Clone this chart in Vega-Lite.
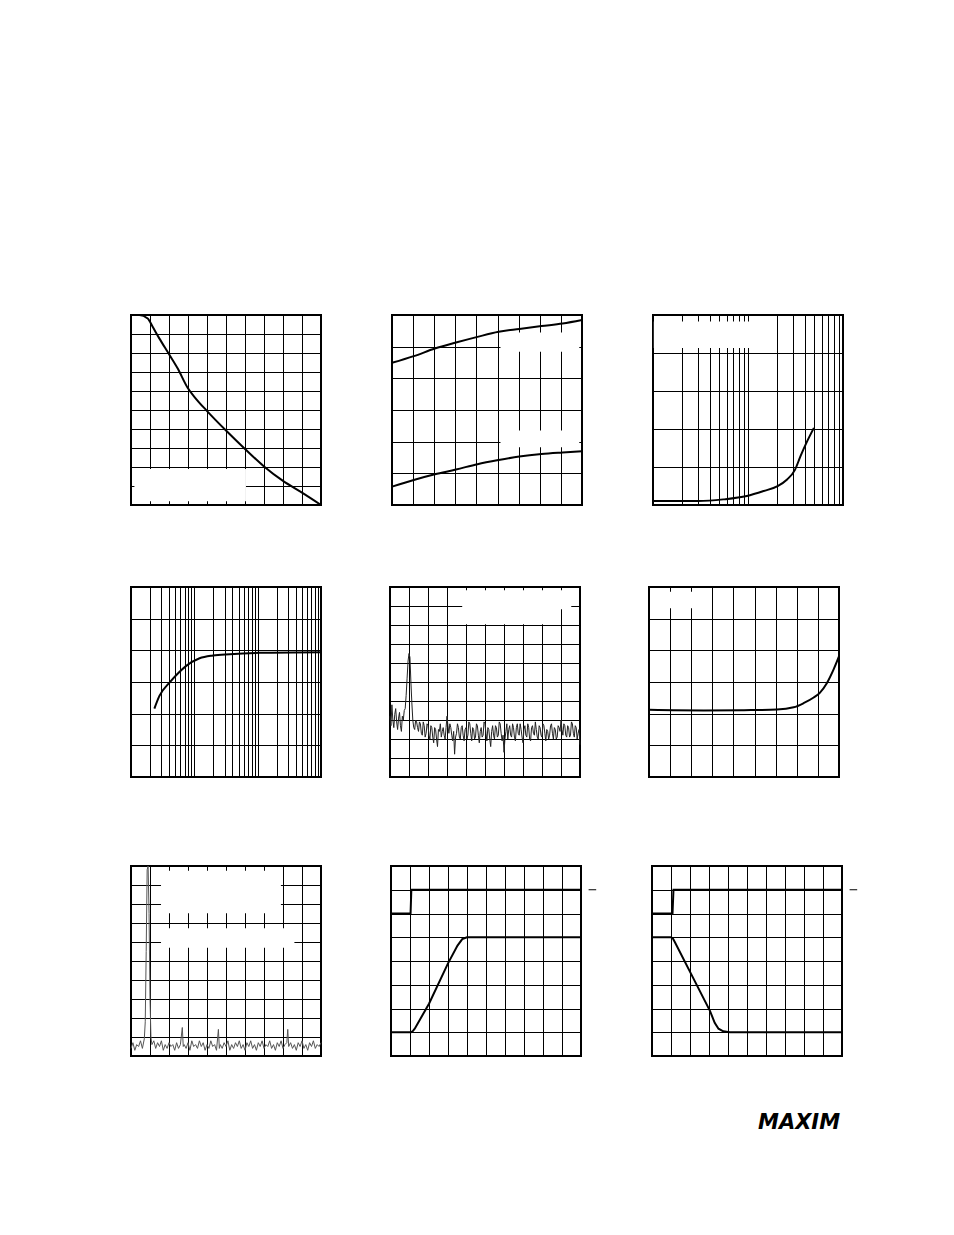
{
  "$schema": "https://vega.github.io/schema/vega-lite/v6.json",
  "background": "white",
  "padding": {"left": 126, "top": 310, "right": 10, "bottom": 10},
  "config": {
    "view": {"stroke": "black", "strokeWidth": 2},
    "axis": {"labels": false, "ticks": false, "domain": false, "title": null, "grid": true, "gridColor": "black", "gridOpacity": 1, "gridWidth": 1, "minExtent": 0, "maxExtent": 0}
  },
  "title": {"text": "MAXIM", "orient": "bottom", "anchor": "start", "frame": "group", "font": "DejaVu Sans", "fontSize": 21, "fontStyle": "italic", "fontWeight": "bold", "color": "black", "offset": 55, "dx": 627},
  "datasets": {
    "p1": [{"x":0,"y":10},{"x":0.44,"y":10},{"x":0.88,"y":9.82},{"x":1.14,"y":9.38},{"x":1.49,"y":8.77},{"x":1.98,"y":7.97},{"x":2.46,"y":7.18},{"x":2.98,"y":6.17},{"x":3.42,"y":5.59},{"x":3.98,"y":4.97},{"x":5.0,"y":3.92},{"x":6.0,"y":2.95},{"x":7.0,"y":2.03},{"x":8.0,"y":1.27},{"x":9.0,"y":0.65},{"x":10,"y":0.0}],
    "p1m": [{"x":0.18,"x2":6.05,"y":0.2,"y2":1.9}],
    "p2": [{"s":"a","x":0,"y":4.49},{"s":"a","x":1.03,"y":4.7},{"s":"a","x":2.03,"y":4.94},{"s":"a","x":3.03,"y":5.13},{"s":"a","x":4.05,"y":5.31},{"s":"a","x":5.05,"y":5.47},{"s":"a","x":6.03,"y":5.56},{"s":"a","x":7.08,"y":5.65},{"s":"a","x":8.08,"y":5.73},{"s":"a","x":9,"y":5.84},
           {"s":"b","x":0,"y":0.58},{"s":"b","x":1.03,"y":0.79},{"s":"b","x":2.03,"y":0.97},{"s":"b","x":3.03,"y":1.12},{"s":"b","x":4.05,"y":1.29},{"s":"b","x":5.05,"y":1.42},{"s":"b","x":6.03,"y":1.53},{"s":"b","x":7.08,"y":1.61},{"s":"b","x":8.08,"y":1.66},{"s":"b","x":9,"y":1.7}],
    "p2m": [{"x":5.14,"x2":8.87,"y":4.84,"y2":5.45},{"x":5.14,"x2":8.87,"y":1.82,"y2":2.35}],
    "p3": [{"x":1,"y":0.105},{"x":2.99,"y":0.105},{"x":5.5,"y":0.148},{"x":9.72,"y":0.236},{"x":14.6,"y":0.367},{"x":20.5,"y":0.498},{"x":25.8,"y":0.673},{"x":31.1,"y":0.918},{"x":35.7,"y":1.285},{"x":42,"y":1.68},{"x":49.4,"y":2.03}],
    "p3m": [{"x":1.02,"x2":19,"y":4.13,"y2":4.83}],
    "p4": [{"x":2.34,"y":2.16},{"x":2.81,"y":2.56},{"x":4.05,"y":2.98},{"x":5.49,"y":3.27},{"x":7.44,"y":3.51},{"x":12.1,"y":3.75},{"x":19.7,"y":3.84},{"x":36.2,"y":3.88},{"x":108,"y":3.92},{"x":1000,"y":3.94}],
    "p5": [{"x":0,"y":3.2},{"x":0.05,"y":2.7},{"x":0.1,"y":3.8},{"x":0.15,"y":3.0},{"x":0.2,"y":2.6},{"x":0.25,"y":3.3},{"x":0.3,"y":3.6},{"x":0.35,"y":2.9},{"x":0.4,"y":2.5},{"x":0.45,"y":3.1},{"x":0.5,"y":3.4},{"x":0.55,"y":2.7},{"x":0.6,"y":2.4},{"x":0.65,"y":3.2},{"x":0.7,"y":3.0},{"x":0.75,"y":3.5},{"x":0.8,"y":3.6},{"x":0.85,"y":4.3},{"x":0.9,"y":5.2},{"x":0.95,"y":6.1},{"x":1.0,"y":6.5},{"x":1.05,"y":6.3},{"x":1.1,"y":5.0},{"x":1.15,"y":3.9},{"x":1.2,"y":3.0},{"x":1.25,"y":2.6},{"x":1.3,"y":2.5},{"x":1.35,"y":3.0},{"x":1.4,"y":2.9},{"x":1.45,"y":2.6},{"x":1.5,"y":2.4},{"x":1.55,"y":2.9},{"x":1.6,"y":2.8},{"x":1.65,"y":2.3},{"x":1.7,"y":2.2},{"x":1.75,"y":2.9},{"x":1.8,"y":2.7},{"x":1.85,"y":2.1},{"x":1.9,"y":2.3},{"x":1.95,"y":2.8},{"x":2.0,"y":2.7},{"x":2.05,"y":2.2},{"x":2.1,"y":2.0},{"x":2.15,"y":2.7},{"x":2.2,"y":2.6},{"x":2.25,"y":2.1},{"x":2.3,"y":1.8},{"x":2.35,"y":2.6},{"x":2.4,"y":2.5},{"x":2.45,"y":2.0},{"x":2.5,"y":1.6},{"x":2.55,"y":2.5},{"x":2.6,"y":2.4},{"x":2.65,"y":2.8},{"x":2.7,"y":2.1},{"x":2.75,"y":2.4},{"x":2.8,"y":2.6},{"x":2.85,"y":2.2},{"x":2.9,"y":2.0},{"x":2.95,"y":2.6},{"x":3.0,"y":3.2},{"x":3.05,"y":2.7},{"x":3.1,"y":2.3},{"x":3.15,"y":2.8},{"x":3.2,"y":2.6},{"x":3.25,"y":2.2},{"x":3.3,"y":1.9},{"x":3.35,"y":2.4},{"x":3.4,"y":1.2},{"x":3.45,"y":2.1},{"x":3.5,"y":2.3},{"x":3.55,"y":2.8},{"x":3.6,"y":2.6},{"x":3.65,"y":2.1},{"x":3.7,"y":2.0},{"x":3.75,"y":2.6},{"x":3.8,"y":2.7},{"x":3.85,"y":2.2},{"x":3.9,"y":1.9},{"x":3.95,"y":2.5},{"x":4.0,"y":2.6},{"x":4.05,"y":2.0},{"x":4.1,"y":2.2},{"x":4.15,"y":2.9},{"x":4.2,"y":2.8},{"x":4.25,"y":2.3},{"x":4.3,"y":1.9},{"x":4.35,"y":2.6},{"x":4.4,"y":2.5},{"x":4.45,"y":2.0},{"x":4.5,"y":2.1},{"x":4.55,"y":2.8},{"x":4.6,"y":2.7},{"x":4.65,"y":2.2},{"x":4.7,"y":1.8},{"x":4.75,"y":2.4},{"x":4.8,"y":2.6},{"x":4.85,"y":2.1},{"x":4.9,"y":2.2},{"x":4.95,"y":2.9},{"x":5.0,"y":2.8},{"x":5.05,"y":2.3},{"x":5.1,"y":1.9},{"x":5.15,"y":2.6},{"x":5.2,"y":2.5},{"x":5.25,"y":2.0},{"x":5.3,"y":1.6},{"x":5.35,"y":2.4},{"x":5.4,"y":2.7},{"x":5.45,"y":2.2},{"x":5.5,"y":2.0},{"x":5.55,"y":2.7},{"x":5.6,"y":2.6},{"x":5.65,"y":2.1},{"x":5.7,"y":2.2},{"x":5.75,"y":2.9},{"x":5.8,"y":2.8},{"x":5.85,"y":2.3},{"x":5.9,"y":1.9},{"x":5.95,"y":2.2},{"x":6.0,"y":1.3},{"x":6.05,"y":2.0},{"x":6.1,"y":2.4},{"x":6.15,"y":2.8},{"x":6.2,"y":2.0},{"x":6.25,"y":2.5},{"x":6.3,"y":2.7},{"x":6.35,"y":2.2},{"x":6.4,"y":2.1},{"x":6.45,"y":2.8},{"x":6.5,"y":2.6},{"x":6.55,"y":2.1},{"x":6.6,"y":1.9},{"x":6.65,"y":2.6},{"x":6.7,"y":2.8},{"x":6.75,"y":2.3},{"x":6.8,"y":2.2},{"x":6.85,"y":2.8},{"x":6.9,"y":2.5},{"x":6.95,"y":2.1},{"x":7.0,"y":1.8},{"x":7.05,"y":2.5},{"x":7.1,"y":2.7},{"x":7.15,"y":2.2},{"x":7.2,"y":2.1},{"x":7.25,"y":2.8},{"x":7.3,"y":2.6},{"x":7.35,"y":2.0},{"x":7.4,"y":1.9},{"x":7.45,"y":2.6},{"x":7.5,"y":2.7},{"x":7.55,"y":2.3},{"x":7.6,"y":2.2},{"x":7.65,"y":2.9},{"x":7.7,"y":2.5},{"x":7.75,"y":2.1},{"x":7.8,"y":2.0},{"x":7.85,"y":2.7},{"x":7.9,"y":2.6},{"x":7.95,"y":2.2},{"x":8.0,"y":2.1},{"x":8.05,"y":2.8},{"x":8.1,"y":2.7},{"x":8.15,"y":2.3},{"x":8.2,"y":1.9},{"x":8.25,"y":2.5},{"x":8.3,"y":2.4},{"x":8.35,"y":2.0},{"x":8.4,"y":2.2},{"x":8.45,"y":2.7},{"x":8.5,"y":2.8},{"x":8.55,"y":2.3},{"x":8.6,"y":2.0},{"x":8.65,"y":2.6},{"x":8.7,"y":2.5},{"x":8.75,"y":2.0},{"x":8.8,"y":2.1},{"x":8.85,"y":2.7},{"x":8.9,"y":2.6},{"x":8.95,"y":2.4},{"x":9.0,"y":3.0},{"x":9.05,"y":2.5},{"x":9.1,"y":2.2},{"x":9.15,"y":2.8},{"x":9.2,"y":2.7},{"x":9.25,"y":2.2},{"x":9.3,"y":2.1},{"x":9.35,"y":2.7},{"x":9.4,"y":2.6},{"x":9.45,"y":2.1},{"x":9.5,"y":2.2},{"x":9.55,"y":2.9},{"x":9.6,"y":2.8},{"x":9.65,"y":2.3},{"x":9.7,"y":2.1},{"x":9.75,"y":2.7},{"x":9.8,"y":2.6},{"x":9.85,"y":2.0},{"x":9.9,"y":2.3},{"x":9.95,"y":2.5},{"x":10,"y":1.7}],
    "p5m": [{"x":3.8,"x2":9.54,"y":8.83,"y2":9.83},{"x":3.8,"x2":8.97,"y":8.04,"y2":8.9}],
    "p6": [{"x":0,"y":2.12},{"x":2.6,"y":2.1},{"x":4.5,"y":2.11},{"x":6.06,"y":2.13},{"x":6.85,"y":2.2},{"x":7.32,"y":2.33},{"x":7.8,"y":2.51},{"x":8.08,"y":2.65},{"x":8.43,"y":2.97},{"x":8.74,"y":3.39},{"x":9,"y":3.81}],
    "p6m": [{"x":0.5,"x2":2.5,"y":5.33,"y2":5.85}],
    "p7": [{"x":0,"y":0.4},{"x":0.1,"y":0.7},{"x":0.2,"y":0.3},{"x":0.3,"y":0.6},{"x":0.4,"y":0.5},{"x":0.5,"y":0.8},{"x":0.6,"y":0.4},{"x":0.7,"y":0.9},{"x":0.75,"y":1.8},{"x":0.8,"y":5.5},{"x":0.85,"y":9.8},{"x":0.9,"y":10},{"x":0.95,"y":7.5},{"x":1.0,"y":3.0},{"x":1.05,"y":1.0},{"x":1.1,"y":0.6},{"x":1.2,"y":0.8},{"x":1.3,"y":0.4},{"x":1.4,"y":0.7},{"x":1.5,"y":0.5},{"x":1.6,"y":0.8},{"x":1.7,"y":0.3},{"x":1.8,"y":0.6},{"x":1.9,"y":0.4},{"x":2.0,"y":0.7},{"x":2.1,"y":0.5},{"x":2.2,"y":0.6},{"x":2.3,"y":0.3},{"x":2.4,"y":0.7},{"x":2.5,"y":0.4},{"x":2.6,"y":0.6},{"x":2.7,"y":1.5},{"x":2.75,"y":0.5},{"x":2.8,"y":0.6},{"x":2.9,"y":0.4},{"x":3.0,"y":0.7},{"x":3.1,"y":0.3},{"x":3.2,"y":0.8},{"x":3.3,"y":0.5},{"x":3.4,"y":0.6},{"x":3.5,"y":0.4},{"x":3.6,"y":0.8},{"x":3.7,"y":0.5},{"x":3.8,"y":0.7},{"x":3.9,"y":0.3},{"x":4.0,"y":0.6},{"x":4.1,"y":0.4},{"x":4.2,"y":0.8},{"x":4.3,"y":0.5},{"x":4.4,"y":0.6},{"x":4.5,"y":0.3},{"x":4.6,"y":1.4},{"x":4.65,"y":0.4},{"x":4.7,"y":0.6},{"x":4.8,"y":0.4},{"x":4.9,"y":0.7},{"x":5.0,"y":0.5},{"x":5.1,"y":0.8},{"x":5.2,"y":0.3},{"x":5.3,"y":0.6},{"x":5.4,"y":0.4},{"x":5.5,"y":0.7},{"x":5.6,"y":0.5},{"x":5.7,"y":0.8},{"x":5.8,"y":0.4},{"x":5.9,"y":0.6},{"x":6.0,"y":0.3},{"x":6.1,"y":0.7},{"x":6.2,"y":0.5},{"x":6.3,"y":0.8},{"x":6.4,"y":0.4},{"x":6.5,"y":0.6},{"x":6.6,"y":0.3},{"x":6.7,"y":0.7},{"x":6.8,"y":0.5},{"x":6.9,"y":0.8},{"x":7.0,"y":0.4},{"x":7.1,"y":0.6},{"x":7.2,"y":0.5},{"x":7.3,"y":0.8},{"x":7.4,"y":0.4},{"x":7.5,"y":0.6},{"x":7.6,"y":0.3},{"x":7.7,"y":0.7},{"x":7.8,"y":0.5},{"x":7.9,"y":0.8},{"x":8.0,"y":0.4},{"x":8.1,"y":0.6},{"x":8.2,"y":0.7},{"x":8.25,"y":1.4},{"x":8.3,"y":0.5},{"x":8.4,"y":0.7},{"x":8.5,"y":0.4},{"x":8.6,"y":0.6},{"x":8.7,"y":0.3},{"x":8.8,"y":0.7},{"x":8.9,"y":0.5},{"x":9.0,"y":0.8},{"x":9.1,"y":0.4},{"x":9.2,"y":0.6},{"x":9.3,"y":0.3},{"x":9.4,"y":0.7},{"x":9.5,"y":0.5},{"x":9.6,"y":0.8},{"x":9.7,"y":0.4},{"x":9.8,"y":0.6},{"x":9.9,"y":0.5},{"x":10,"y":0.7}],
    "p7m": [{"x":1.58,"x2":7.89,"y":7.51,"y2":9.75},{"x":1.58,"x2":8.6,"y":5.7,"y2":6.72}],
    "p8": [{"s":"a","x":0,"y":6},{"s":"a","x":1.03,"y":6},{"s":"a","x":1.07,"y":7},{"s":"a","x":10,"y":7},
           {"s":"b","x":0,"y":1},{"s":"b","x":1.05,"y":1},{"s":"b","x":1.15,"y":1.05},{"s":"b","x":1.25,"y":1.15},{"s":"b","x":2.0,"y":2.2},{"s":"b","x":3.0,"y":3.9},{"s":"b","x":3.5,"y":4.65},{"s":"b","x":3.75,"y":4.92},{"s":"b","x":4.0,"y":5},{"s":"b","x":10,"y":5}],
    "p9": [{"s":"a","x":0,"y":6},{"s":"a","x":1.08,"y":6},{"s":"a","x":1.13,"y":7},{"s":"a","x":10,"y":7},
           {"s":"b","x":0,"y":5},{"s":"b","x":1.0,"y":5},{"s":"b","x":1.1,"y":4.95},{"s":"b","x":1.2,"y":4.8},{"s":"b","x":2.05,"y":3.47},{"s":"b","x":3.05,"y":1.9},{"s":"b","x":3.3,"y":1.4},{"s":"b","x":3.5,"y":1.15},{"s":"b","x":3.75,"y":1.04},{"s":"b","x":4.1,"y":1.0},{"s":"b","x":10,"y":1}],
    "dash": [{"x":10.4,"x2":10.8,"y":7}]
  },
  "spacing": 76,
  "vconcat": [
    {"hconcat": [
      {"width":190,"height":190,
       "encoding":{"x":{"field":"x","type":"quantitative","scale":{"domain":[0,10],"nice":false,"zero":false},"axis":{"values":[1,2,3,4,5,6,7,8,9]}},"y":{"field":"y","type":"quantitative","scale":{"domain":[0,10],"nice":false,"zero":false},"axis":{"values":[1,2,3,4,5,6,7,8,9]}}},
       "layer":[
        {"data":{"name":"p1m"},"mark":{"type":"rect","fill":"white"},"encoding":{"x2":{"field":"x2"},"y2":{"field":"y2"}}},
        {"data":{"name":"p1"},"mark":{"type":"line","interpolate":"monotone","color":"black","strokeWidth":2},"encoding":{}}
      ]},
      {"width":190,"height":190,
       "encoding":{"x":{"field":"x","type":"quantitative","scale":{"domain":[0,9],"nice":false,"zero":false},"axis":{"values":[1,2,3,4,5,6,7,8]}},"y":{"field":"y","type":"quantitative","scale":{"domain":[0,6],"nice":false,"zero":false},"axis":{"values":[1,2,3,4,5]}}},
       "layer":[
        {"data":{"name":"p2m"},"mark":{"type":"rect","fill":"white"},"encoding":{"x2":{"field":"x2"},"y2":{"field":"y2"}}},
        {"data":{"name":"p2"},"mark":{"type":"line","interpolate":"monotone","color":"black","strokeWidth":2},"encoding":{"detail":{"field":"s"}}}
      ]},
      {"width":190,"height":190,
       "encoding":{"x":{"field":"x","type":"quantitative","scale":{"type":"log","domain":[1,100],"nice":false},"axis":{"values":[2,3,4,5,6,7,8,9,10,20,30,40,50,60,70,80,90]}},"y":{"field":"y","type":"quantitative","scale":{"domain":[0,5],"nice":false,"zero":false},"axis":{"values":[1,2,3,4]}}},
       "layer":[
        {"data":{"name":"p3m"},"mark":{"type":"rect","fill":"white"},"encoding":{"x2":{"field":"x2"},"y2":{"field":"y2"}}},
        {"data":{"name":"p3"},"mark":{"type":"line","interpolate":"monotone","color":"black","strokeWidth":2},"encoding":{}}
      ]}
    ], "spacing": 61},
    {"spacing": 85, "vconcat": [
      {"hconcat": [
        {"width":190,"height":190,"data":{"name":"p4"},"mark":{"type":"line","interpolate":"monotone","color":"black","strokeWidth":2},"encoding":{"x":{"field":"x","type":"quantitative","scale":{"type":"log","domain":[1,1000],"nice":false},"axis":{"values":[2,3,4,5,6,7,8,9,10,20,30,40,50,60,70,80,90,100,200,300,400,500,600,700,800,900]}},"y":{"field":"y","type":"quantitative","scale":{"domain":[0,6],"nice":false,"zero":false},"axis":{"values":[1,2,3,4,5]}}}},
        {"width":190,"height":190,
         "encoding":{"x":{"field":"x","type":"quantitative","scale":{"domain":[0,10],"nice":false,"zero":false},"axis":{"values":[1,2,3,4,5,6,7,8,9]}},"y":{"field":"y","type":"quantitative","scale":{"domain":[0,10],"nice":false,"zero":false},"axis":{"values":[1,2,3,4,5,6,7,8,9]}}},
         "layer":[
          {"data":{"name":"p5m"},"mark":{"type":"rect","fill":"white"},"encoding":{"x2":{"field":"x2"},"y2":{"field":"y2"}}},
          {"data":{"name":"p5"},"mark":{"type":"line","color":"#222222","strokeWidth":1},"encoding":{}}
        ]},
        {"width":190,"height":190,
         "encoding":{"x":{"field":"x","type":"quantitative","scale":{"domain":[0,9],"nice":false,"zero":false},"axis":{"values":[1,2,3,4,5,6,7,8]}},"y":{"field":"y","type":"quantitative","scale":{"domain":[0,6],"nice":false,"zero":false},"axis":{"values":[1,2,3,4,5]}}},
         "layer":[
          {"data":{"name":"p6m"},"mark":{"type":"rect","fill":"white"},"encoding":{"x2":{"field":"x2"},"y2":{"field":"y2"}}},
          {"data":{"name":"p6"},"mark":{"type":"line","interpolate":"monotone","color":"black","strokeWidth":2},"encoding":{}}
        ]}
      ], "spacing": 61},
      {"spacing": 62, "hconcat": [
        {"width":190,"height":190,
         "encoding":{"x":{"field":"x","type":"quantitative","scale":{"domain":[0,10],"nice":false,"zero":false},"axis":{"values":[1,2,3,4,5,6,7,8,9]}},"y":{"field":"y","type":"quantitative","scale":{"domain":[0,10],"nice":false,"zero":false},"axis":{"values":[1,2,3,4,5,6,7,8,9]}}},
         "layer":[
          {"data":{"name":"p7m"},"mark":{"type":"rect","fill":"white"},"encoding":{"x2":{"field":"x2"},"y2":{"field":"y2"}}},
          {"data":{"name":"p7"},"mark":{"type":"line","color":"#555555","strokeWidth":1},"encoding":{}}
        ]},
        {"spacing": 49, "hconcat": [
          {"width":190,"height":190,
           "encoding":{"x":{"field":"x","type":"quantitative","scale":{"domain":[0,10],"nice":false,"zero":false},"axis":{"values":[1,2,3,4,5,6,7,8,9]}},"y":{"field":"y","type":"quantitative","scale":{"domain":[0,8],"nice":false,"zero":false},"axis":{"values":[1,2,3,4,5,6,7]}}},
           "layer":[
            {"data":{"name":"p8"},"mark":{"type":"line","color":"black","strokeWidth":2},"encoding":{"detail":{"field":"s"}}},
            {"data":{"name":"dash"},"mark":{"type":"rule","color":"black","strokeWidth":1},"encoding":{"x2":{"field":"x2"}}}
          ]},
          {"width":190,"height":190,
           "encoding":{"x":{"field":"x","type":"quantitative","scale":{"domain":[0,10],"nice":false,"zero":false},"axis":{"values":[1,2,3,4,5,6,7,8,9]}},"y":{"field":"y","type":"quantitative","scale":{"domain":[0,8],"nice":false,"zero":false},"axis":{"values":[1,2,3,4,5,6,7]}}},
           "layer":[
            {"data":{"name":"p9"},"mark":{"type":"line","color":"black","strokeWidth":2},"encoding":{"detail":{"field":"s"}}},
            {"data":{"name":"dash"},"mark":{"type":"rule","color":"black","strokeWidth":1},"encoding":{"x2":{"field":"x2"}}}
          ]}
        ]}
      ]}
    ]}
  ]
}
